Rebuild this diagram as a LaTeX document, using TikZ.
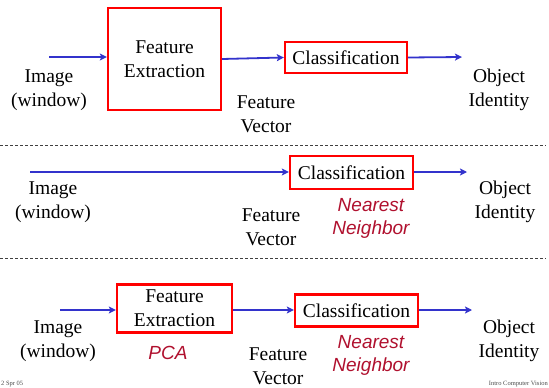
\documentclass[tikz,border=0pt]{standalone}
\usepackage{fontspec}
\setmainfont{Liberation Serif}
\newfontfamily\arialf{Liberation Sans}
\usetikzlibrary{arrows.meta}
\definecolor{arrblue}{RGB}{51,51,204}
\definecolor{boxred}{RGB}{255,0,0}
\definecolor{txtred}{RGB}{176,16,46}
\tikzset{
  lbl/.style={inner sep=0pt, align=center, font=\fontsize{19.5}{24}\selectfont},
  redlbl/.style={inner sep=0pt, align=center, text=txtred, font=\arialf\itshape\fontsize{19}{23}\selectfont},
  stagebox/.style={draw=boxred, line width=2.3pt, inner sep=0pt, align=center, font=\fontsize{19.5}{24}\selectfont},
  arr/.style={draw=arrblue, line width=1.8pt, -{Stealth[length=7pt,width=7pt,inset=1.5pt]}},
  sep/.style={draw=black!75, line width=0.9pt, dash pattern=on 3pt off 2pt},
  foot/.style={inner sep=0pt, font=\fontsize{6.5}{7}\selectfont, text=black!70}
}
\begin{document}
\begin{tikzpicture}[x=1pt,y=-1pt]
\useasboundingbox (0,0) rectangle (549,388);
% ---------- panel 1 ----------
\node[stagebox, minimum width=113pt, minimum height=102pt] (fe1) at (164.5,59) {Feature\\Extraction};
\node[stagebox, minimum width=122pt, minimum height=31pt] (cl1) at (346,57.5) {Classification};
\coordinate (a1) at (49,57);
\coordinate (o1) at (462,57);
\node[lbl] (img1) at (49,90) {Image\\(window)};
\node[lbl] (fv1) at (266,114) {Feature\\Vector};
\node[lbl] (obj1) at (499,90) {Object\\Identity};
\draw[arr] (a1) -- (a1 -| fe1.west);
\draw[arr] (fe1.east) -- (cl1.west);
\draw[arr] (cl1.east) -- (o1);
% ---------- separator ----------
\coordinate (s1a) at (0,145);
\coordinate (s1b) at (546,145);
\draw[sep] (s1a) -- (s1b);
% ---------- panel 2 ----------
\node[stagebox, minimum width=123pt, minimum height=33pt] (cl2) at (351.5,172.5) {Classification};
\coordinate (a2) at (30,172);
\coordinate (o2) at (467,172);
\node[lbl] (img2) at (53,202) {Image\\(window)};
\node[lbl] (fv2) at (271,227) {Feature\\Vector};
\node[redlbl] (nn2) at (371,218) {Nearest\\Neighbor};
\node[lbl] (obj2) at (505,202) {Object\\Identity};
\draw[arr] (a2) -- (a2 -| cl2.west);
\draw[arr] (cl2.east |- o2) -- (o2);
% ---------- separator ----------
\coordinate (s2a) at (0,258);
\coordinate (s2b) at (546,258);
\draw[sep] (s2a) -- (s2b);
% ---------- panel 3 ----------
\node[stagebox, minimum width=115pt, minimum height=48pt] (fe3) at (174.5,308.5) {Feature\\Extraction};
\node[stagebox, minimum width=123pt, minimum height=32pt] (cl3) at (356.5,310.5) {Classification};
\coordinate (a3) at (60,310);
\coordinate (o3) at (472,310);
\node[lbl] (img3) at (58,341) {Image\\(window)};
\node[redlbl] (pca) at (168,353) {PCA};
\node[lbl] (fv3) at (278,366) {Feature\\Vector};
\node[redlbl] (nn3) at (371,355) {Nearest\\Neighbor};
\node[lbl] (obj3) at (509,341) {Object\\Identity};
\draw[arr] (a3) -- (a3 -| fe3.west);
\draw[arr] (fe3.east |- o3) -- (o3 -| cl3.west);
\draw[arr] (cl3.east |- o3) -- (o3);
% ---------- footer ----------
\node[foot, anchor=base west] (fl) at (1,385.5) {2 Spr 05};
\node[foot, anchor=base east] (fr) at (548,385.5) {Intro Computer Vision};
\end{tikzpicture}
\end{document}
